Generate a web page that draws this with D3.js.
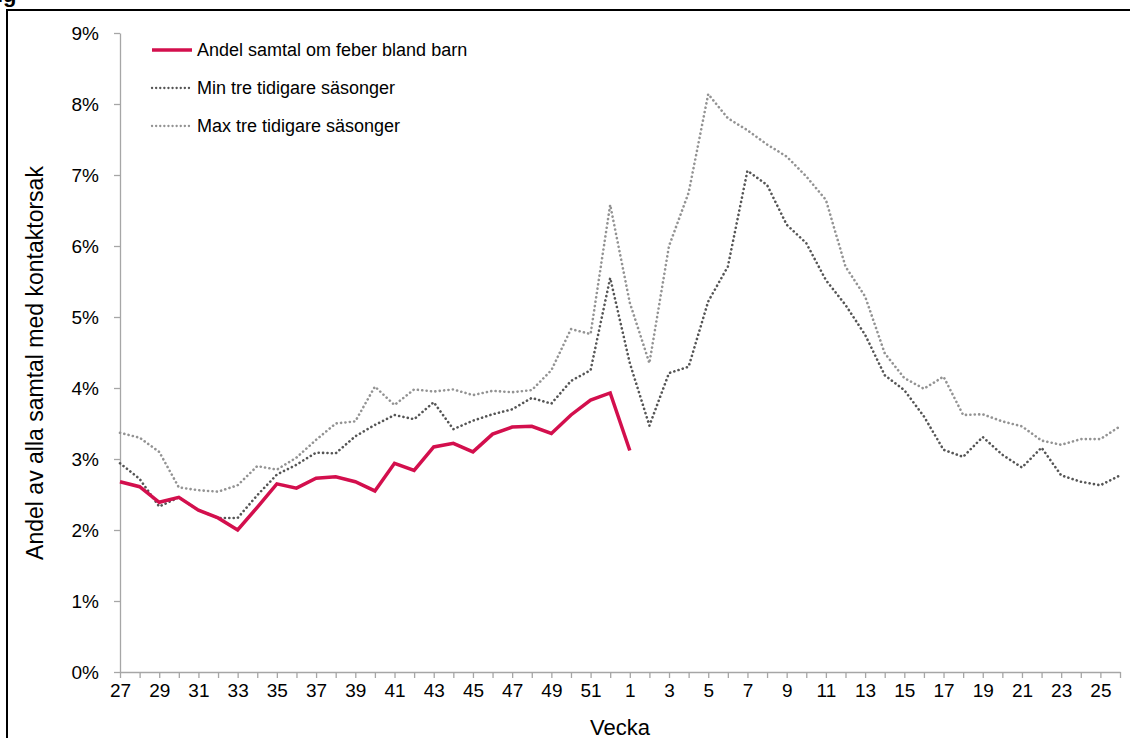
<!DOCTYPE html>
<html>
<head>
<meta charset="utf-8">
<script src="https://cdn.jsdelivr.net/npm/d3@7"></script>
<style>
  body { margin: 0; background: #fff; }
  svg { display: block; font-family: "Liberation Sans", Arial, sans-serif; }
</style>
</head>
<body>
<svg width="1130" height="738"></svg>
<script>
// veckor 27..52 och 1..26
let weeks = []
for (let w = 27; w <= 52; w++) weeks.push(String(w))
for (let w = 1; w <= 26; w++) weeks.push(String(w))

// andel (%) samtal om feber bland barn, vecka 27 -> vecka 1
let andelFeber = [2.68, 2.61, 2.39, 2.46, 2.28, 2.17, 2.00, 2.32, 2.65, 2.59, 2.73, 2.75, 2.68,
    2.55, 2.94, 2.84, 3.17, 3.22, 3.10, 3.35, 3.45, 3.46, 3.36, 3.62, 3.83, 3.93, 3.12]

// min tre tidigare säsonger
let minSasong = [2.94, 2.72, 2.33, 2.46, 2.28, 2.17, 2.17, 2.49, 2.78, 2.92, 3.09, 3.08, 3.32,
    3.48, 3.62, 3.56, 3.80, 3.42, 3.54, 3.63, 3.70, 3.86, 3.78, 4.10, 4.25, 5.55,
    4.35, 3.47, 4.21, 4.30, 5.22, 5.71, 7.06, 6.86, 6.30, 6.04, 5.52, 5.17, 4.75,
    4.18, 3.97, 3.60, 3.13, 3.03, 3.31, 3.06, 2.88, 3.16, 2.77, 2.68, 2.63, 2.77]

// max tre tidigare säsonger
let maxSasong = [3.37, 3.30, 3.10, 2.60, 2.56, 2.54, 2.63, 2.90, 2.85, 3.02, 3.27, 3.50, 3.53,
    4.02, 3.76, 3.98, 3.95, 3.98, 3.90, 3.96, 3.94, 3.97, 4.25, 4.83, 4.76, 6.58,
    5.20, 4.35, 6.00, 6.75, 8.14, 7.80, 7.63, 7.43, 7.26, 6.98, 6.65, 5.71, 5.29,
    4.49, 4.14, 3.99, 4.16, 3.62, 3.63, 3.53, 3.46, 3.26, 3.20, 3.28, 3.28, 3.46]

let yTicks = [0, 1, 2, 3, 4, 5, 6, 7, 8, 9]

let legendNames = ["Andel samtal om feber bland barn", "Min tre tidigare säsonger", "Max tre tidigare säsonger"]

const red = "#d30f4d"
const darkGrey = "#555555"
const lightGrey = "#939393"

var svg = d3.select("svg")

// ram runt figuren
svg.append("rect")
    .attr("x", 7).attr("y", 10)
    .attr("width", 1140).attr("height", 740)
    .attr("fill", "none")
    .attr("stroke", "#000")
    .attr("stroke-width", 2)

// avklippt rubrik överst
svg.append("text")
    .attr("x", -16.5).attr("y", 2)
    .attr("font-size", 22)
    .attr("font-weight", "bold")
    .text("Fig")

let x = d3.scalePoint().domain(weeks).range([120, 1120])
let y = d3.scaleLinear().domain([0, 9]).range([672, 33])

// y-axel
let yAxis = svg.append("g")
    .attr("transform", "translate(120,0)")
    .call(d3.axisLeft(y).tickValues(yTicks).tickFormat(d => d + "%").tickSize(6).tickSizeOuter(0).tickPadding(15))
yAxis.select(".domain").attr("stroke", "#a6a6a6").attr("stroke-width", 1.3)
yAxis.selectAll(".tick line").attr("stroke", "#a6a6a6").attr("stroke-width", 1.3)
yAxis.selectAll("text").attr("font-size", 19).attr("fill", "#000")
    .attr("font-family", "Liberation Sans, Arial, sans-serif")

// x-axel
let xAxis = svg.append("g")
    .attr("transform", "translate(0,672)")
    .call(d3.axisBottom(x).tickSize(6).tickSizeOuter(0).tickPadding(6)
        .tickFormat((d, i) => i % 2 == 0 ? d : ""))
xAxis.select(".domain").attr("stroke", "#a6a6a6").attr("stroke-width", 1.3)
xAxis.selectAll(".tick line").attr("stroke", "#a6a6a6").attr("stroke-width", 1.3)
xAxis.selectAll("text").attr("font-size", 19).attr("fill", "#000")
    .attr("font-family", "Liberation Sans, Arial, sans-serif")

// axeltitlar
svg.append("text")
    .attr("x", 620).attr("y", 735)
    .attr("text-anchor", "middle")
    .attr("font-size", 22)
    .text("Vecka")

svg.append("text")
    .attr("transform", "translate(43,363) rotate(-90)")
    .attr("text-anchor", "middle")
    .attr("font-size", 23)
    .text("Andel av alla samtal med kontaktorsak")

let line = d3.line()
    .x((d, i) => x(weeks[i]))
    .y(d => y(d))

// linjerna
svg.append("path")
    .datum(maxSasong)
    .attr("d", line)
    .attr("fill", "none")
    .attr("stroke", lightGrey)
    .attr("stroke-width", 2.6)
    .attr("stroke-linecap", "round")
    .attr("stroke-dasharray", "0.1,4.3")

svg.append("path")
    .datum(minSasong)
    .attr("d", line)
    .attr("fill", "none")
    .attr("stroke", darkGrey)
    .attr("stroke-width", 2.6)
    .attr("stroke-linecap", "round")
    .attr("stroke-dasharray", "0.1,4.3")

svg.append("path")
    .datum(andelFeber)
    .attr("d", line)
    .attr("fill", "none")
    .attr("stroke", red)
    .attr("stroke-width", 3.5)
    .attr("stroke-linejoin", "miter")

// legend
let legendStyles = [
    {color: red, width: 3.5, dash: null},
    {color: darkGrey, width: 2.3, dash: "0.1,4"},
    {color: lightGrey, width: 2.3, dash: "0.1,4"}
]
for (let i = 0; i < legendNames.length; i++) {
    let ly = 50 + i * 38
    let l = svg.append("line")
        .attr("x1", 152).attr("y1", ly)
        .attr("x2", 192).attr("y2", ly)
        .attr("stroke", legendStyles[i].color)
        .attr("stroke-width", legendStyles[i].width)
    if (legendStyles[i].dash) {
        l.attr("stroke-dasharray", legendStyles[i].dash).attr("stroke-linecap", "round")
    }
    svg.append("text")
        .attr("x", 197).attr("y", ly)
        .attr("dy", "0.35em")
        .attr("font-size", 18)
        .text(legendNames[i])
}
</script>
</body>
</html>
